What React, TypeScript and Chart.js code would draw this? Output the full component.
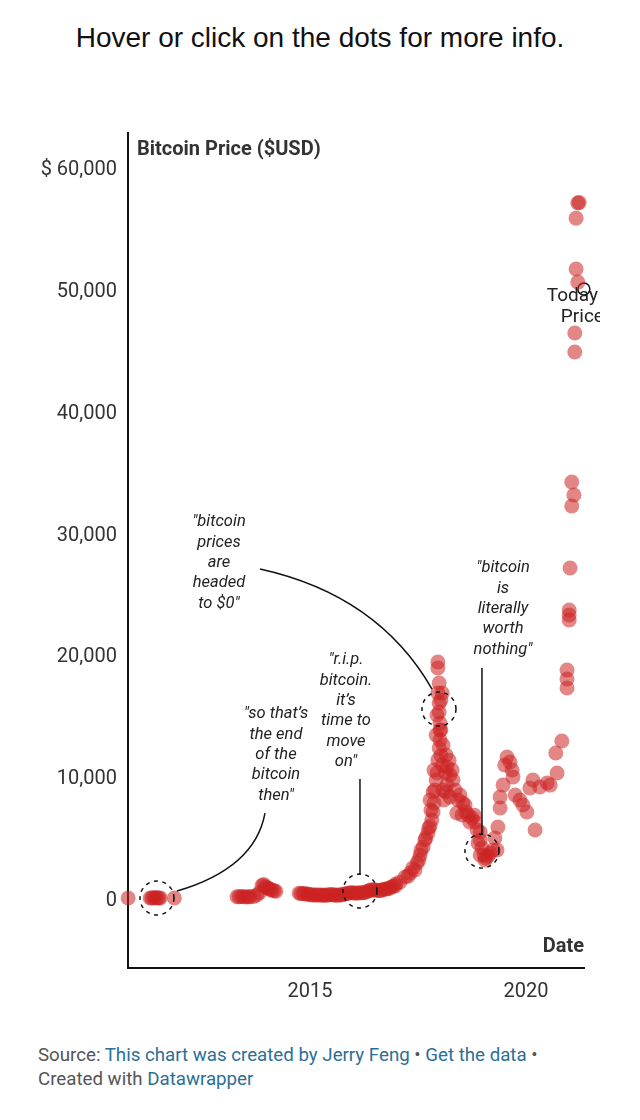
import React, { useEffect, useRef } from 'react';
import { Chart, registerables } from 'chart.js';

Chart.register(...registerables);

// Decimal-year dates and BTC prices (USD)
const dates: number[] = [
  // 2010-2011
  2010.79, 2011.30, 2011.34, 2011.38, 2011.42, 2011.46, 2011.50, 2011.53, 2011.86,
  // 2013-2014
  2013.31, 2013.36, 2013.41, 2013.46, 2013.52, 2013.57, 2013.61, 2013.70, 2013.77, 2013.84,
  2013.89, 2013.93, 2013.96, 2014.00, 2014.03, 2014.08, 2014.12, 2014.17, 2014.21,
  // 2014.75-2016
  2014.75, 2014.79, 2014.84, 2014.88, 2014.93, 2014.97, 2015.02, 2015.07, 2015.12, 2015.16,
  2015.21, 2015.26, 2015.30, 2015.35, 2015.39, 2015.44, 2015.49, 2015.53, 2015.58, 2015.62,
  2015.67, 2015.72, 2015.76, 2015.81, 2015.86, 2015.90, 2015.95, 2016.00, 2016.04, 2016.09,
  2016.13, 2016.18, 2016.23, 2016.27, 2016.32, 2016.37, 2016.41, 2016.46, 2016.50, 2016.55,
  2016.60, 2016.64, 2016.69, 2016.73, 2016.78, 2016.83, 2016.88, 2016.92, 2016.97, 2016.99,
  // 2017 run-up
  2017.08, 2017.20, 2017.27, 2017.32, 2017.38, 2017.43, 2017.48, 2017.52, 2017.55, 2017.57,
  2017.62, 2017.66, 2017.68, 2017.73, 2017.75, 2017.78, 2017.78, 2017.80, 2017.82, 2017.85,
  2017.85, 2017.87, 2017.87, 2017.89, 2017.92, 2017.92, 2017.94, 2017.94, 2017.96, 2017.99,
  2018.01, 2018.01, 2017.99, 2017.99, 2017.96, 2017.99, 2017.96, 2017.96, 2018.03, 2018.06,
  // 2018 decline
  2018.01, 2018.03, 2018.03, 2018.06, 2018.08, 2018.08, 2018.13, 2018.15, 2018.17, 2018.17,
  2018.22, 2018.24, 2018.29, 2018.31, 2018.10, 2018.24, 2018.15, 2018.36, 2018.43, 2018.40,
  2018.47, 2018.52, 2018.54, 2018.59, 2018.61, 2018.66, 2018.70, 2018.75, 2018.80, 2018.82,
  2018.87, 2018.94, 2018.98,
  // late 2018 low
  2019.03, 2019.07, 2019.12, 2019.17, 2018.89, 2019.05, 2018.94, 2019.24, 2019.33, 2018.94,
  // 2019-2021
  2019.28, 2019.35, 2019.40, 2019.40, 2019.47, 2019.51, 2019.56, 2019.63, 2019.68, 2019.70,
  2019.75, 2019.86, 2019.93, 2020.02, 2020.09, 2020.16, 2020.21, 2020.32, 2020.49, 2020.56,
  2020.72, 2020.69, 2020.83, 2020.95, 2020.95, 2020.95, 2021.00, 2021.00, 2021.00, 2021.02,
  2021.06, 2021.11, 2021.06, 2021.13, 2021.13, 2021.20, 2021.16, 2021.16, 2021.20, 2021.23,
];

const prices: number[] = [
  // 2010-2011
  0.1, 2, 8, 18, 15, 13, 10, 7, 3,
  // 2013-2014
  100, 110, 120, 110, 90, 100, 110, 130, 250, 450,
  1030, 1100, 950, 850, 800, 700, 650, 600, 550,
  // 2014.75-2016
  400, 380, 360, 340, 320, 310, 260, 240, 250, 250,
  250, 240, 235, 240, 235, 260, 280, 270, 230, 240,
  240, 250, 300, 330, 380, 420, 430, 430, 400, 410,
  420, 430, 440, 450, 530, 600, 680, 660, 650, 640,
  620, 610, 700, 720, 750, 780, 900, 950, 1000, 1150,
  // 2017 run-up
  1300, 1720, 1800, 2050, 2460, 2300, 2870, 3120, 3530, 3940,
  4190, 4760, 4920, 5340, 5750, 5910, 8040, 7220, 6400, 7060,
  8700, 7800, 10500, 8860, 9690, 13380, 10260, 15020, 11330, 12310,
  12970, 14360, 15270, 16010, 16830, 17650, 18880, 19370, 16250, 16830,
  // 2018 decline
  13790, 13790, 11700, 10900, 12560, 8860, 10300, 11740, 10750, 9300,
  11300, 10100, 10500, 9690, 8040, 8290, 8700, 8860, 8040, 6980,
  8450, 6810, 7800, 7630, 7060, 6810, 6240, 6570, 6800, 6240,
  5580, 4760, 4100,
  // late 2018 low
  3530, 3280, 3450, 3690, 4510, 3120, 3530, 3940, 3940, 5420,
  // 2019-2021
  4920, 5830, 7390, 8290, 9270, 10920, 11570, 11160, 10510, 9930,
  8450, 8040, 7630, 7060, 9030, 9690, 5580, 9110, 9440, 9270,
  10260, 11900, 12890, 17240, 17980, 18710, 22820, 23230, 23640, 27090,
  32180, 33080, 34150, 44820, 46380, 50560, 51630, 55810, 57050, 57100,
];

const todayDates: number[] = [2021.34];
const todayPrices: number[] = [50000];

const xTickValues: number[] = [2015, 2020];
const yTickValues: number[] = [0, 10000, 20000, 30000, 40000, 50000, 60000];

const X_MIN = 2010.787;
const X_MAX = 2021.343;
const Y_MIN = -5746;
const Y_MAX = 62800;

type Note = {
  lines: string[];
  tx: number;
  ty: number;
  path: [number, number][];
  circle: [number, number];
};

const notes: Note[] = [
  {
    lines: ['"bitcoin', 'prices', 'are', 'headed', 'to $0"'],
    tx: 2012.893, ty: 30862,
    path: [[2013.843, 27004], [2016.574, 24870], [2017.824, 17155]],
    circle: [2017.986, 15513],
  },
  {
    lines: ['"so that’s', 'the end', 'of the', 'bitcoin', 'then"'],
    tx: 2014.213, ty: 15103,
    path: [[2013.958, 6977], [2013.727, 2462], [2011.921, 575]],
    circle: [2011.458, 0],
  },
  {
    lines: ['"r.i.p.', 'bitcoin.', 'it’s', 'time to', 'move', 'on"'],
    tx: 2015.833, ty: 19535,
    path: [[2016.157, 9768], [2016.157, 1888]],
    circle: [2016.157, 575],
  },
  {
    lines: ['"bitcoin', 'is', 'literally', 'worth', 'nothing"'],
    tx: 2019.468, ty: 27086,
    path: [[2018.981, 18878], [2018.981, 5171]],
    circle: [2018.981, 3858],
  },
];

const overlayPlugin = {
  id: 'overlay',
  afterDatasetsDraw(chart: any) {
    const { ctx, chartArea, scales } = chart;
    const xs = scales.x;
    const ys = scales.y;
    const px = (v: number) => xs.getPixelForValue(v);
    const py = (v: number) => ys.getPixelForValue(v);
    ctx.save();

    // axis titles
    ctx.fillStyle = '#333';
    ctx.font = 'bold 20px Roboto';
    ctx.textBaseline = 'middle';
    ctx.textAlign = 'left';
    ctx.fillText('Bitcoin Price ($USD)', chartArea.left + 9, chartArea.top + 17);
    ctx.font = 'bold 20px Roboto';
    ctx.textAlign = 'right';
    ctx.fillText('Date', chartArea.right, chartArea.bottom - 21);

    // annotations
    for (const n of notes) {
      ctx.fillStyle = '#222';
      ctx.font = 'italic 16.5px Roboto';
      ctx.textAlign = 'center';
      ctx.textBaseline = 'middle';
      const cx = px(n.tx);
      const cy = py(n.ty);
      n.lines.forEach((l, i) => ctx.fillText(l, cx, cy + i * 20.4));

      ctx.strokeStyle = '#111';
      ctx.lineWidth = 1.5;
      ctx.setLineDash([]);
      ctx.beginPath();
      const p = n.path.map(([a, b]) => [px(a), py(b)]);
      ctx.moveTo(p[0][0], p[0][1]);
      if (p.length === 3) {
        ctx.quadraticCurveTo(p[1][0], p[1][1], p[2][0], p[2][1]);
      } else {
        ctx.lineTo(p[1][0], p[1][1]);
      }
      ctx.stroke();

      ctx.setLineDash([4, 4.5]);
      ctx.beginPath();
      ctx.arc(px(n.circle[0]), py(n.circle[1]), 17, 0, Math.PI * 2);
      ctx.stroke();
    }

    // today's price label (clipped by the canvas edge, as in the original)
    ctx.setLineDash([]);
    ctx.fillStyle = '#222';
    ctx.font = '19px Roboto';
    ctx.textAlign = 'left';
    ctx.textBaseline = 'middle';
    const tx = px(todayDates[0]);
    const ty = py(todayPrices[0]);
    ctx.fillText('Today', tx - 37, ty + 7);
    ctx.fillText('Price', tx - 23, ty + 28);

    ctx.restore();
  },
};

export default function App() {
  const ref = useRef<HTMLCanvasElement>(null);

  useEffect(() => {
    if (!ref.current) return;
    Chart.defaults.font.family = 'Roboto';
    const chart = new Chart(ref.current, {
      type: 'scatter',
      data: {
        datasets: [
          {
            data: dates.map((d, i) => ({ x: d, y: prices[i] })),
            backgroundColor: 'rgba(204, 34, 34, 0.55)',
            borderWidth: 0,
            pointRadius: 7.5,
            pointHoverRadius: 7.5,
            clip: false as any,
          },
          {
            data: todayDates.map((d, i) => ({ x: d, y: todayPrices[i] })),
            backgroundColor: 'rgba(0,0,0,0)',
            borderColor: '#111',
            borderWidth: 1.5,
            pointRadius: 6,
            clip: false as any,
          },
        ],
      },
      options: {
        responsive: false,
        devicePixelRatio: 1,
        animation: false,
        events: [],
        layout: { padding: { top: 133, right: 16, bottom: 0, left: 0 } },
        plugins: {
          legend: { display: false },
          tooltip: { enabled: false },
        },
        scales: {
          x: {
            type: 'linear',
            min: X_MIN,
            max: X_MAX,
            afterBuildTicks: (s: any) => {
              s.ticks = xTickValues.map((value) => ({ value }));
            },
            afterFit: (s: any) => {
              s.height = 42;
            },
            ticks: {
              callback: (v: any) => String(v),
              font: { size: 20 },
              color: '#333',
              padding: 12,
              maxRotation: 0,
              autoSkip: false,
            },
            grid: { display: false, drawTicks: false },
            border: { display: true, color: '#111', width: 2 },
          },
          y: {
            type: 'linear',
            min: Y_MIN,
            max: Y_MAX,
            afterBuildTicks: (s: any) => {
              s.ticks = yTickValues.map((value) => ({ value }));
            },
            afterFit: (s: any) => {
              s.width = 128;
            },
            ticks: {
              callback: (v: any) =>
                v === 60000 ? '$ 60,000' : Number(v).toLocaleString('en-US'),
              font: { size: 20 },
              color: '#333',
              padding: 11,
              labelOffset: 3,
              autoSkip: false,
            },
            grid: { display: false, drawTicks: false },
            border: { display: true, color: '#111', width: 2 },
          },
        },
      },
      plugins: [overlayPlugin],
    });
    return () => chart.destroy();
  }, []);

  const link = { color: '#2a6f97' };
  return (
    <div
      style={{
        position: 'absolute',
        left: 0,
        top: 0,
        width: 640,
        height: 1120,
        background: '#fff',
        overflow: 'hidden',
      }}
    >
      <div
        style={{
          position: 'absolute',
          left: 0,
          top: 0,
          width: 640,
          height: 76,
          lineHeight: '76px',
          textAlign: 'center',
          fontFamily: '"Liberation Sans", Arial, sans-serif',
          fontSize: 28,
          color: '#111',
        }}
      >
        Hover or click on the dots for more info.
      </div>
      <canvas
        ref={ref}
        width={600}
        height={1010}
        style={{ position: 'absolute', left: 0, top: 0, width: 600, height: 1010 }}
      />
      <div
        style={{
          position: 'absolute',
          left: 38,
          top: 1043,
          fontFamily: 'Roboto, sans-serif',
          fontSize: 18.7,
          lineHeight: '24px',
          color: '#555',
          whiteSpace: 'nowrap',
        }}
      >
        Source: <span style={link}>This chart was created by Jerry Feng</span> •{' '}
        <span style={link}>Get the data</span> •
        <br />
        Created with <span style={link}>Datawrapper</span>
      </div>
    </div>
  );
}
